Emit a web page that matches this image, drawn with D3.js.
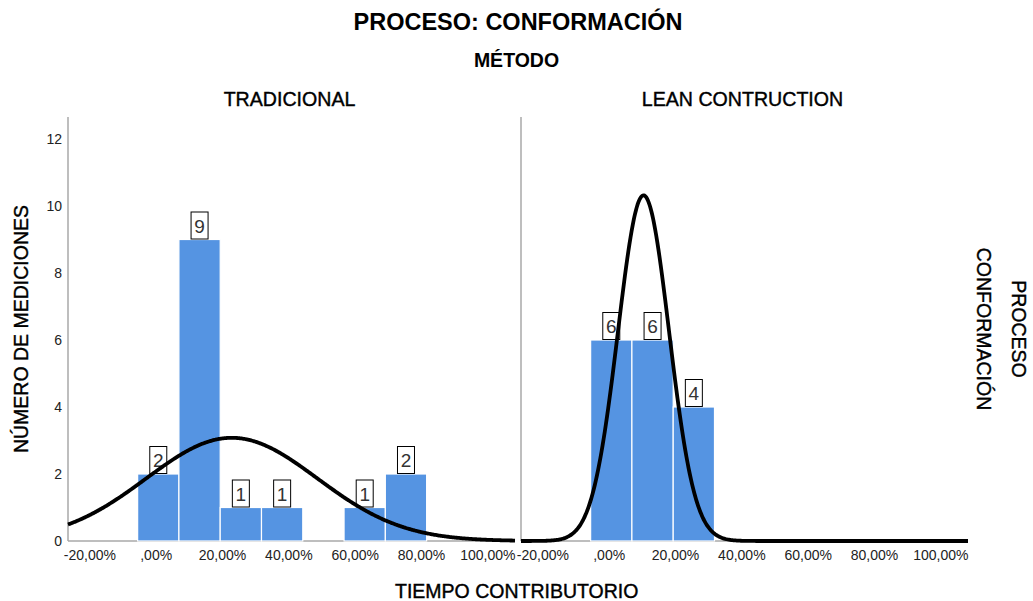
<!DOCTYPE html>
<html>
<head>
<meta charset="utf-8">
<script src="https://cdn.jsdelivr.net/npm/d3@7"></script>
<style>
  html, body { margin: 0; padding: 0; background: #fff; }
  svg { display: block; font-family: "Liberation Sans", Arial, sans-serif; }
  .heavy { stroke: #000; stroke-width: 0.4px; }
</style>
</head>
<body>
<svg id="chart" width="1033" height="601"></svg>
<script>
// Histogram bins (percent of contributory time), shared by both panels
const binStart = -5.6;
const binWidth = 12.45;

// Counts per bin for each method
const panelNames = ["TRADICIONAL", "LEAN CONTRUCTION"];
const tradicionalCounts = [2, 9, 1, 1, 0, 1, 2];
const leanCounts = [6, 6, 4];

// Fitted normal curve parameters (percent)
const curveMeans = [22.8, 10.35];
const curveSDs = [25.8, 7.7];

// Axis ticks
const xTickValues = [-20, 0, 20, 40, 60, 80, 100];
const xTickLabels = ["-20,00%", ",00%", "20,00%", "40,00%", "60,00%", "80,00%", "100,00%"];
const yTickValues = [0, 2, 4, 6, 8, 10, 12];

const svg = d3.select("#chart");
const barColor = "#5594e2";
const axisColor = "#a8a8a8";

const panelLeft = [68, 521];
const panelWidth = 447;
const yTop = 117, yBottom = 541;

const y = d3.scaleLinear().domain([0, 12]).range([yBottom, 139]);

const countsByPanel = [tradicionalCounts, leanCounts];

// Titles
svg.append("text").attr("x", 518).attr("y", 30).attr("text-anchor", "middle")
  .attr("font-size", 23.5).attr("font-weight", "bold").text("PROCESO: CONFORMACIÓN");
svg.append("text").attr("x", 516.5).attr("y", 67).attr("text-anchor", "middle")
  .attr("font-size", 19.5).attr("font-weight", "bold").text("MÉTODO");

// Axis titles
svg.append("text").attr("class", "heavy").attr("x", 516.7).attr("y", 598).attr("text-anchor", "middle")
  .attr("font-size", 19.5).text("TIEMPO CONTRIBUTORIO");
svg.append("text").attr("class", "heavy").attr("transform", "translate(28,329) rotate(-90)").attr("text-anchor", "middle")
  .attr("font-size", 19.5).text("NÚMERO DE MEDICIONES");
svg.append("text").attr("class", "heavy").attr("transform", "translate(977,329) rotate(90)").attr("text-anchor", "middle")
  .attr("font-size", 19.5).text("CONFORMACIÓN");
svg.append("text").attr("class", "heavy").attr("transform", "translate(1012,329) rotate(90)").attr("text-anchor", "middle")
  .attr("font-size", 19.5).text("PROCESO");

// Y tick labels (left panel only)
svg.append("g").selectAll("text").data(yTickValues).join("text")
  .attr("x", 62).attr("y", d => y(d) + 5).attr("text-anchor", "end")
  .attr("font-size", 14).attr("fill", "#222").text(d => d);

const normalPdf = (v, m, s) => Math.exp(-((v - m) ** 2) / (2 * s * s)) / (s * Math.sqrt(2 * Math.PI));

panelNames.forEach((name, p) => {
  const x0 = panelLeft[p];
  const x = d3.scaleLinear().domain([-26.6, 108.2]).range([x0, x0 + panelWidth]);
  const g = svg.append("g");
  const counts = countsByPanel[p];
  const n = d3.sum(counts);

  // Panel header
  g.append("text").attr("class", "heavy").attr("x", x0 + panelWidth / 2 - 2).attr("y", 106).attr("text-anchor", "middle")
    .attr("font-size", 19.6).text(name);

  // Axis lines
  g.append("line").attr("x1", x0).attr("x2", x0).attr("y1", yTop).attr("y2", yBottom)
    .attr("stroke", axisColor).attr("stroke-width", 1.5);
  g.append("line").attr("x1", x0).attr("x2", x0 + panelWidth).attr("y1", yBottom).attr("y2", yBottom)
    .attr("stroke", axisColor).attr("stroke-width", 1.5);

  // X tick labels
  g.selectAll("text.xt").data(xTickValues).join("text").attr("class", "xt")
    .attr("x", d => x(d)).attr("y", 560).attr("text-anchor", "middle")
    .attr("font-size", 14).attr("fill", "#222").text((d, i) => xTickLabels[i]);

  const bins = counts.map((c, i) => ({ lo: binStart + i * binWidth, hi: binStart + (i + 1) * binWidth, c }))
    .filter(b => b.c > 0);

  // Bars
  g.selectAll("rect.bar").data(bins).join("rect").attr("class", "bar")
    .attr("x", d => x(d.lo)).attr("width", d => x(d.hi) - x(d.lo))
    .attr("y", d => y(d.c)).attr("height", d => y(0) - y(d.c))
    .attr("fill", barColor).attr("stroke", "#fff").attr("stroke-width", 1.2);

  // Count labels
  const lab = g.selectAll("g.lab").data(bins).join("g").attr("class", "lab")
    .attr("transform", d => `translate(${(x(d.lo) + x(d.hi)) / 2},${y(d.c)})`);
  lab.append("rect").attr("x", -8.5).attr("y", -27.5).attr("width", 17).attr("height", 27)
    .attr("fill", "#fff").attr("stroke", "#000").attr("stroke-width", 1);
  lab.append("text").attr("x", 0).attr("y", -7).attr("text-anchor", "middle")
    .attr("font-size", 19).attr("fill", "#333").text(d => d.c);

  // Normal curve
  const xs = d3.range(0, 401).map(i => -26.6 + i * (134.8 / 400));
  const line = d3.line().x(v => x(v)).y(v => y(n * binWidth * normalPdf(v, curveMeans[p], curveSDs[p])))
    .curve(d3.curveBasis);
  g.append("path").datum(xs).attr("d", line).attr("fill", "none")
    .attr("stroke", "#000").attr("stroke-width", 3.8);
});
</script>
</body>
</html>
